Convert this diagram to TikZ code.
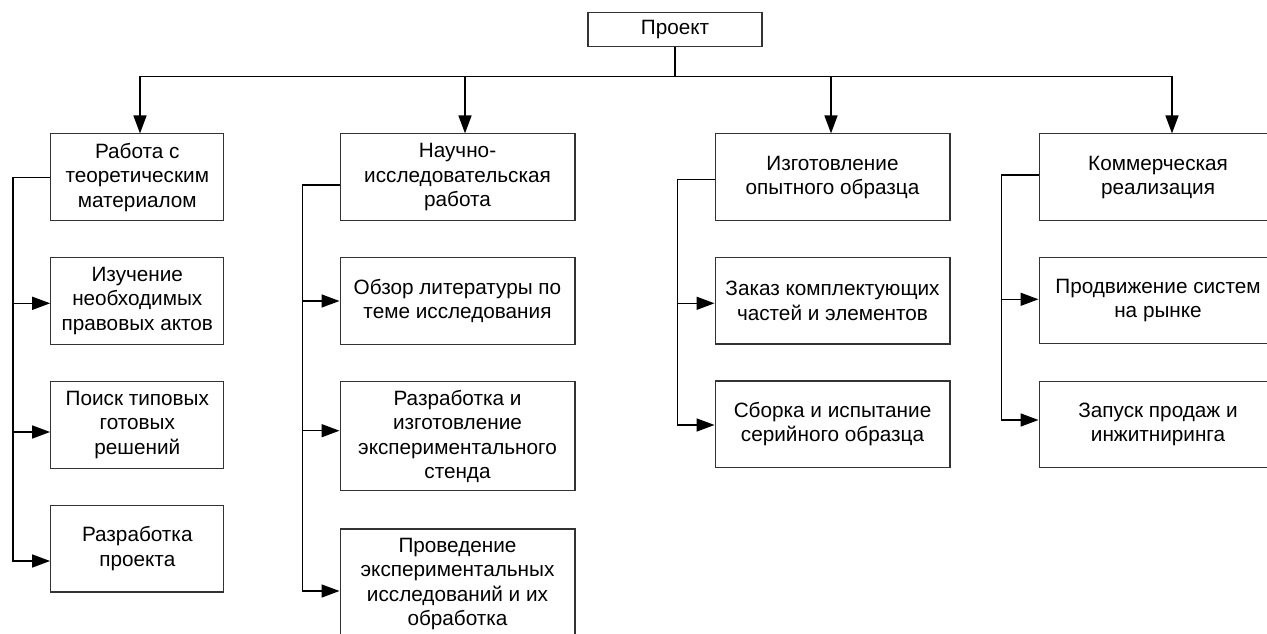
\documentclass[tikz,border=0pt]{standalone}
\usepackage{fontspec}
\setmainfont{Liberation Sans}
\usetikzlibrary{arrows.meta}
\tikzset{
	blok/.style={draw=black!80, line width=0.6pt, align=center, inner sep=2pt, font=\fontsize{11.8}{13.9}\selectfont},
	svyaz/.style={line width=0.9pt, black},
}
\begin{document}
\begin{tikzpicture}[x=0.02cm, y=-0.02cm, >={Triangle[length=0.36cm, width=0.26cm]}]
	\clip (0,0) rectangle (1267,634);
	\node[blok, minimum width=3.48cm, minimum height=0.688cm] (proj) at (675,29.5) {Проект};
	\node[blok, minimum width=3.466cm, minimum height=1.734cm] (rab) at (137.3,177.3) {Работа с\\теоретическим\\материалом};
	\node[blok, minimum width=4.7cm, minimum height=1.734cm] (nir) at (457.5,177.3) {Научно-\\исследовательская\\работа};
	\node[blok, minimum width=4.7cm, minimum height=1.734cm] (izg) at (832.5,177.3) {Изготовление\\опытного образца};
	\node[blok, minimum width=4.76cm, minimum height=1.734cm] (kom) at (1158,177.3) {Коммерческая\\реализация};
	\node[blok, minimum width=3.466cm, minimum height=1.732cm] (izu) at (137.3,301) {Изучение\\необходимых\\правовых актов};
	\node[blok, minimum width=3.466cm, minimum height=1.732cm] (poi) at (137.3,425) {Поиск типовых\\готовых\\решений};
	\node[blok, minimum width=3.466cm, minimum height=1.732cm] (rpr) at (137.3,548.7) {Разработка\\проекта};
	\node[blok, minimum width=4.7cm, minimum height=1.732cm] (obz) at (457.5,301) {Обзор литературы по\\теме исследования};
	\node[blok, minimum width=4.7cm, minimum height=2.186cm] (rie) at (457.5,436.3) {Разработка и\\изготовление\\экспериментального\\стенда};
	\node[blok, minimum width=4.7cm, minimum height=2.2cm] (pro) at (457.5,584) {Проведение\\экспериментальных\\исследований и их\\обработка};
	\node[blok, minimum width=4.7cm, minimum height=1.732cm] (zak) at (832.5,300.7) {Заказ комплектующих\\частей и элементов};
	\node[blok, minimum width=4.7cm, minimum height=1.732cm] (sbo) at (832.5,424.3) {Сборка и испытание\\серийного образца};
	\node[blok, minimum width=4.76cm, minimum height=1.732cm] (prd) at (1158,300.5) {Продвижение систем\\на рынке};
	\node[blok, minimum width=4.76cm, minimum height=1.732cm] (zap) at (1158,424.5) {Запуск продаж и\\инжитниринга};

	\draw[svyaz] (proj.south) -- ++(0,29.3) coordinate (shina);
	\draw[svyaz,->] (shina) -| ([shift={(2.7,0)}]rab.north);
	\draw[svyaz,->] (shina) -| ([shift={(7.5,0)}]nir.north);
	\draw[svyaz,->] (shina) -| ([shift={(-1.5,0)}]izg.north);
	\draw[svyaz,->] (shina) -| ([shift={(14,0)}]kom.north);

	\draw[svyaz,->] (rab.west) -- ++(-37,0) |- ([shift={(0,2.3)}]izu.west);
	\draw[svyaz,->] (rab.west) -- ++(-37,0) |- ([shift={(0,7)}]poi.west);
	\draw[svyaz,->] (rab.west) -- ++(-37,0) |- ([shift={(0,12.3)}]rpr.west);
	\draw[svyaz,->] ([shift={(0,7.7)}]nir.west) -- ++(-37,0) |- (obz.west);
	\draw[svyaz,->] ([shift={(0,7.7)}]nir.west) -- ++(-37,0) |- ([shift={(0,-5.6)}]rie.west);
	\draw[svyaz,->] ([shift={(0,7.7)}]nir.west) -- ++(-37,0) |- ([shift={(0,7)}]pro.west);
	\draw[svyaz,->] ([shift={(0,2)}]izg.west) -- ++(-37,0) |- ([shift={(0,2.6)}]zak.west);
	\draw[svyaz,->] ([shift={(0,2)}]izg.west) -- ++(-37,0) |- ([shift={(0,0.7)}]sbo.west);
	\draw[svyaz,->] ([shift={(0,-2.3)}]kom.west) -- ++(-37,0) |- ([shift={(0,-1.2)}]prd.west);
	\draw[svyaz,->] ([shift={(0,-2.3)}]kom.west) -- ++(-37,0) |- ([shift={(0,-4.5)}]zap.west);
\end{tikzpicture}
\end{document}
